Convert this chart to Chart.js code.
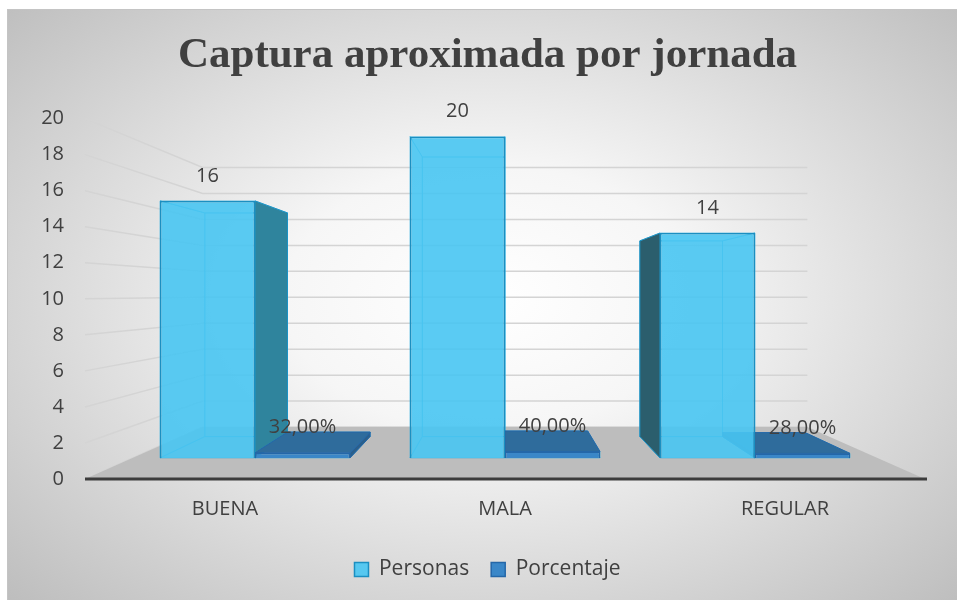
<!DOCTYPE html>
<html>
<head>
<meta charset="utf-8">
<script src="https://cdn.jsdelivr.net/npm/chart.js@4.4.1/dist/chart.umd.min.js"></script>
<style>
  html, body { margin: 0; padding: 0; background: #fff; }
  #wrap { position: relative; width: 957px; height: 600px; overflow: hidden; }
  #bg {
    position: absolute; left: 7px; top: 9px; width: 960px; height: 600px;
    border-top: 1px solid #c4c4c4; border-left: 1px solid #c4c4c4;
    background: radial-gradient(ellipse farthest-corner at 50% 48%, #ffffff 0%, #f6f6f6 30%, #bcbcbc 100%);
  }
  #chart { position: absolute; left: 0; top: 0; }
</style>
</head>
<body>
<div id="wrap">
  <div id="bg"></div>
  <canvas id="chart" width="957" height="600"></canvas>
</div>
<script>
const categorias = ["BUENA", "MALA", "REGULAR"];
const personas = [16, 20, 14];
const porcentaje = [0.32, 0.40, 0.28];
const ticksY = [0, 2, 4, 6, 8, 10, 12, 14, 16, 18, 20];

document.addEventListener("DOMContentLoaded", () => {
  const canvas = document.getElementById("chart");
  const textColor = "#404040";

  // perspective: bars at depth 0.87, back wall at 0.72 toward the vanishing point
  const sBar = 0.87;
  const sWall = 0.72;

  function vp(ca) {
    return { x: (ca.left + ca.right) / 2, y: ca.top + 0.485 * (ca.bottom - ca.top) };
  }
  function proj(p, v, s) {
    return { x: v.x + s * (p.x - v.x), y: v.y + s * (p.y - v.y) };
  }
  function poly(ctx, pts, fill, stroke) {
    ctx.beginPath();
    ctx.moveTo(pts[0].x, pts[0].y);
    for (let i = 1; i < pts.length; i++) ctx.lineTo(pts[i].x, pts[i].y);
    ctx.closePath();
    if (fill) { ctx.fillStyle = fill; ctx.fill(); }
    if (stroke) { ctx.strokeStyle = stroke; ctx.stroke(); }
  }

  const shades = [
    { left: "#2b5e6d", right: "#2f849d", top: "#3aa6d2", edge: "#1c93c6" },
    { left: "#2a5f8c", right: "#2a5f8c", top: "#2f6c9c", edge: "#2467a8" },
  ];

  const escena3d = {
    id: "escena3d",
    beforeDatasetsDraw(chart) {
      const ctx = chart.ctx;
      const ca = chart.chartArea;
      const y = chart.scales.y;
      const v = vp(ca);
      ctx.save();

      // walls
      ctx.lineWidth = 1.5;
      ctx.strokeStyle = "#d4d4d4";
      for (const t of ticksY) {
        const f = { x: ca.left, y: y.getPixelForValue(t) };
        const b = proj(f, v, sWall);
        const br = proj({ x: ca.right, y: f.y }, v, sWall);
        ctx.beginPath();
        ctx.moveTo(f.x, f.y);
        ctx.lineTo(b.x, b.y);
        ctx.lineTo(br.x, br.y);
        ctx.stroke();
      }

      // floor
      const y0 = y.getPixelForValue(0);
      const fl = { x: ca.left, y: y0 };
      const fr = { x: ca.right, y: y0 };
      poly(ctx, [fl, fr, proj(fr, v, sWall), proj(fl, v, sWall)], "#bdbdbd", null);
      ctx.lineWidth = 3;
      ctx.strokeStyle = "#3c3c3c";
      ctx.beginPath();
      ctx.moveTo(ca.left, y0);
      ctx.lineTo(ca.right + 2, y0);
      ctx.stroke();

      // back parts of the bars
      ctx.lineWidth = 1;
      chart.data.datasets.forEach((ds, di) => {
        const meta = chart.getDatasetMeta(di);
        const sh = shades[di];
        meta.data.forEach((el) => {
          const p = el.getProps(["x", "y", "base", "width"], true);
          const x1 = p.x - p.width / 2, x2 = p.x + p.width / 2;
          const f = [
            { x: x1, y: p.y }, { x: x2, y: p.y },
            { x: x2, y: p.base }, { x: x1, y: p.base },
          ];
          const b = f.map((q) => proj(q, v, sBar));
          const faces = [
            { pts: [f[0], b[0], b[3], f[3]], vis: b[0].x < f[0].x, col: sh.left },
            { pts: [f[1], b[1], b[2], f[2]], vis: b[1].x > f[1].x, col: sh.right },
            { pts: [f[0], f[1], b[1], b[0]], vis: b[0].y < f[0].y, col: sh.top },
            { pts: [f[3], f[2], b[2], b[3]], vis: b[3].y > f[3].y, col: sh.top },
          ];
          poly(ctx, b, null, "rgba(40,170,220,0.6)");
          for (const fc of faces) {
            if (!fc.vis) poly(ctx, fc.pts, null, "rgba(40,170,220,0.6)");
          }
          for (const fc of faces) {
            if (fc.vis) poly(ctx, fc.pts, fc.col, sh.edge);
          }
        });
      });
      ctx.restore();
    },
    afterDatasetsDraw(chart) {
      const ctx = chart.ctx;
      ctx.save();
      ctx.font = "20px 'Open Sans'";
      ctx.fillStyle = textColor;
      ctx.textAlign = "center";
      ctx.textBaseline = "middle";
      chart.data.datasets.forEach((ds, di) => {
        const meta = chart.getDatasetMeta(di);
        meta.data.forEach((el, i) => {
          const val = ds.data[i].y;
          const txt = di === 0 ? String(val) : (val * 100).toFixed(2).replace(".", ",") + "%";
          ctx.fillText(txt, el.x, el.y - 25);
        });
      });
      ctx.restore();
    },
  };

  new Chart(canvas, {
    type: "bar",
    data: {
      labels: categorias,
      datasets: [
        {
          label: "Personas",
          data: categorias.map((c, i) => ({ x: i, y: personas[i] })),
          xAxisID: "xb",
          yAxisID: "yb",
          backgroundColor: "rgba(72,197,242,0.9)",
          borderColor: "#1b8fc1",
          borderWidth: 1.5,
          categoryPercentage: 0.76,
          barPercentage: 1,
        },
        {
          label: "Porcentaje",
          data: categorias.map((c, i) => ({ x: i, y: porcentaje[i] })),
          xAxisID: "xb",
          yAxisID: "yb",
          backgroundColor: "#3a87c8",
          borderColor: "#2467a8",
          borderWidth: 1.5,
          categoryPercentage: 0.76,
          barPercentage: 1,
        },
      ],
    },
    options: {
      responsive: false,
      animation: false,
      layout: { padding: { left: 18, right: 0, top: 0, bottom: 10 } },
      plugins: {
        title: {
          display: true,
          text: "Captura aproximada por jornada",
          color: textColor,
          font: { family: "'Liberation Serif'", size: 43, weight: "bold" },
          padding: { top: 30, bottom: 37 },
        },
        legend: {
          position: "bottom",
          labels: {
            color: textColor,
            font: { family: "'Open Sans'", size: 21 },
            boxWidth: 14,
            boxHeight: 14,
            padding: 22,
          },
        },
        tooltip: { enabled: false },
      },
      scales: {
        x: {
          type: "category",
          offset: true,
          grid: { display: false, drawTicks: false },
          border: { display: false },
          ticks: { color: textColor, font: { family: "'Open Sans'", size: 20 }, padding: 18 },
          afterFit: (s) => { s.height = 58; },
        },
        xb: {
          type: "linear",
          display: false,
          offset: false,
          bounds: "data",
          min: -0.68,
          max: 2.68,
          afterBuildTicks: (s) => { s.ticks = categorias.map((c, i) => ({ value: i })); },
        },
        y: {
          min: 0,
          max: 20,
          grid: { display: false, drawTicks: false },
          border: { display: false },
          ticks: { stepSize: 2, color: textColor, font: { family: "'Open Sans'", size: 20 }, padding: 21 },
          afterFit: (s) => { s.width = 67; },
        },
        yr: {
          position: "right",
          grid: { display: false, drawTicks: false },
          border: { display: false },
          ticks: { display: false },
          afterFit: (s) => { s.width = 32; },
        },
        yb: { type: "linear", display: false, min: -1.3125, max: 21.125 },
      },
    },
    plugins: [escena3d],
  });
});
</script>
</body>
</html>
